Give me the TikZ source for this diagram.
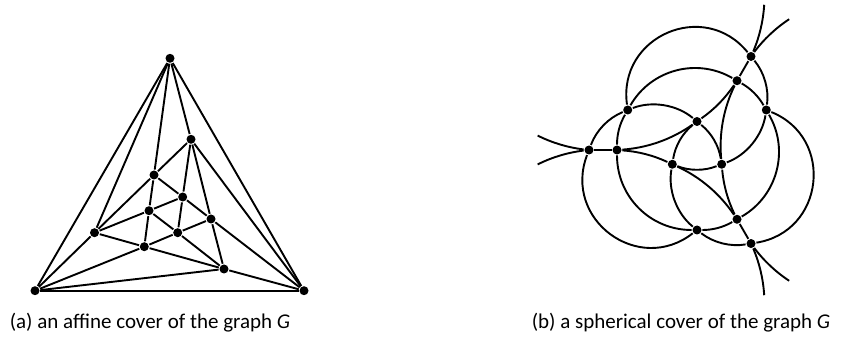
\documentclass[tikz,border=0pt]{standalone}
\usepackage{fontspec}
\setmainfont{Carlito}
\begin{document}
\begin{tikzpicture}[x=1pt, y=1pt, line width=1.9pt, looseness=0.87,
    dot/.style={circle, fill, inner sep=0pt, minimum size=9pt},
    every node/.style={font=\fontsize{21}{25}\selectfont}]
  \useasboundingbox (0,0) rectangle (850,342);

  % (a) affine cover
  \node[dot] (top) at (170,283.7) {};
  \node[dot] (left) at (35,51.3) {};
  \node[dot] (right) at (304,51.3) {};
  \node[dot] (a) at (191,202.7) {};
  \node[dot] (b) at (154,167) {};
  \node[dot] (c) at (182.7,145) {};
  \node[dot] (d) at (149,131.3) {};
  \node[dot] (e) at (211,123) {};
  \node[dot] (f) at (94.5,109.3) {};
  \node[dot] (g) at (177.7,109.3) {};
  \node[dot] (h) at (144.3,95.3) {};
  \node[dot] (i) at (224,73) {};
  \draw (top) -- (left);
  \draw (top) -- (right);
  \draw (left) -- (right);
  \draw (top) -- (f);
  \draw (top) -- (b);
  \draw (top) -- (a);
  \draw (a) -- (b);
  \draw (a) -- (c);
  \draw (a) -- (e);
  \draw (a) -- (right);
  \draw (b) -- (f);
  \draw (b) -- (c);
  \draw (b) -- (d);
  \draw (c) -- (d);
  \draw (c) -- (e);
  \draw (c) -- (g);
  \draw (d) -- (f);
  \draw (d) -- (g);
  \draw (d) -- (h);
  \draw (e) -- (g);
  \draw (e) -- (i);
  \draw (e) -- (right);
  \draw (f) -- (h);
  \draw (f) -- (left);
  \draw (g) -- (h);
  \draw (g) -- (i);
  \draw (h) -- (i);
  \draw (h) -- (left);
  \draw (i) -- (left);
  \draw (i) -- (right);
  \node[anchor=base] (capa) at (150,13) {(a) an affine cover of the graph \textit{G}};

  % (b) spherical cover
  \begin{scope}[shift={(697,192)}]
    \node[dot] (p1) at (180:108) {};
    \node[dot] (p8) at (60:108) {};
    \node[dot] (p12) at (300:108) {};
    \node[dot] (p2) at (180:80) {};
    \node[dot] (p7) at (60:80) {};
    \node[dot] (p10) at (300:80) {};
    \node[dot] (p3) at (150:80) {};
    \node[dot] (p9) at (30:80) {};
    \node[dot] (p11) at (270:80) {};
    \node[dot] (p4) at (90:28.5) {};
    \node[dot] (p5) at (210:28.5) {};
    \node[dot] (p6) at (330:28.5) {};
    \coordinate (e1) at (174.83:160);
    \coordinate (e2) at (65.17:160);
    \coordinate (e3) at (294.83:160);
    \coordinate (e4) at (185.17:160);
    \coordinate (e5) at (54.83:160);
    \coordinate (e6) at (305.17:160);
  \end{scope}
  % circle round the centre
  \draw (p3) to[bend right=15] (p2);
  \draw (p2) to[bend right=45, looseness=1] (p11);
  \draw (p11) to[bend right=15] (p10);
  \draw (p10) to[bend right=45, looseness=1] (p9);
  \draw (p9) to[bend right=15] (p7);
  \draw (p7) to[bend right=45, looseness=1] (p3);
  % three small circles
  \draw (p11) to[bend left=74.4, looseness=1.34] (p1);
  \draw (p1) to[bend left=23.5] (p3);
  \draw (p3) to[bend left=30.5] (p4);
  \draw (p4) to[bend left=21.1] (p6);
  \draw (p9) to[bend left=74.4, looseness=1.34] (p12);
  \draw (p12) to[bend left=23.5] (p11);
  \draw (p11) to[bend left=30.5] (p5);
  \draw (p5) to[bend left=21.1] (p4);
  \draw (p3) to[bend left=74.4, looseness=1.34] (p8);
  \draw (p8) to[bend left=23.5] (p9);
  \draw (p9) to[bend left=30.5] (p6);
  \draw (p6) to[bend left=21.1] (p5);
  % three large circles
  \draw (p1) -- (p2);
  \draw (p2) to[bend right=15.6] (p4);
  \draw (p4) to[bend right=10.4] (p7);
  \draw (p7) -- (p8);
  \draw (p10) to[bend right=15.6] (p5);
  \draw (p5) to[bend right=10.4] (p2);
  \draw (p10) -- (p12);
  \draw (p7) to[bend right=15.6] (p6);
  \draw (p6) to[bend right=10.4] (p10);
  % loose ends
  \draw (e1) to[bend right=9.7] (p1);
  \draw (p8) to[bend right=9.7] (e2);
  \draw (e3) to[bend right=9.7] (p12);
  \draw (p1) to[bend right=9.7] (e4);
  \draw (e5) to[bend right=9.7] (p8);
  \draw (p12) to[bend right=9.7] (e6);
  \node[anchor=base] (capb) at (681,13) {(b) a spherical cover of the graph \textit{G}};
\end{tikzpicture}
\end{document}
